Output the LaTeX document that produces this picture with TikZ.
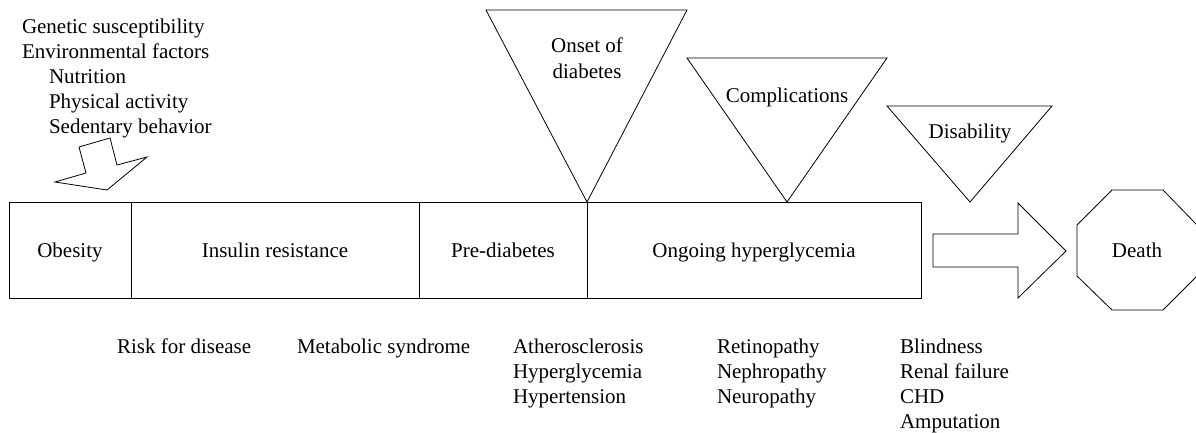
\documentclass[tikz,border=0pt]{standalone}
\usepackage{fontspec}
\setmainfont{Liberation Serif}
\usetikzlibrary{shapes.geometric}
\begin{document}
\begin{tikzpicture}[x=1pt,y=-1pt,line width=0.8pt,
  every node/.style={font=\fontsize{21}{25}\selectfont,inner sep=0pt,outer sep=0pt},
  lbl/.style={anchor=base west},
  ctr/.style={anchor=base},
  stage/.style={draw,minimum height=96pt,anchor=north west}]
\useasboundingbox (0,0) rectangle (1196,432);
% stage boxes
\node[stage,minimum width=122pt] (ob) at (9,202) {};
\node[stage,minimum width=288pt] (ir) at (131,202) {};
\node[stage,minimum width=168pt] (pd) at (419,202) {};
\node[stage,minimum width=334pt] (oh) at (587,202) {};
\node[ctr] (obt) at (70,257) {Obesity};
\node[ctr] (irt) at (275,257) {Insulin resistance};
\node[ctr] (pdt) at (503,257) {Pre-diabetes};
\node[ctr] (oht) at (754,257) {Ongoing hyperglycemia};
% triangles
\draw (486,10) -- (687,10) -- (587,202) -- cycle;
\node[ctr] (on1) at (587,52) {Onset of};
\node[ctr] (on2) at (587,78) {diabetes};
\draw (687,58) -- (887,58) -- (787,202) -- cycle;
\node[ctr] (co) at (787,102) {Complications};
\draw (887,106) -- (1052,106) -- (970,202) -- cycle;
\node[ctr] (di) at (970,138) {Disability};
% big arrow
\draw (933,234) -- (1018,234) -- (1018,203) -- (1066,251) -- (1018,298) -- (1018,267) -- (933,267) -- cycle;
% octagon
\draw (1112,190) -- (1163,190) -- (1197,225) -- (1197,276) -- (1163,310) -- (1112,310) -- (1077,276) -- (1077,225) -- cycle;
\node[ctr] (de) at (1137,257) {Death};
% small arrow
\draw (79,147) -- (110,138) -- (117,165) -- (147,157) -- (107,190) -- (55,182) -- (86,173) -- cycle;
% top-left factors
\node[lbl] (f1) at (22,33) {Genetic susceptibility};
\node[lbl] (f2) at (22,58) {Environmental factors};
\node[lbl] (f3) at (49,83) {Nutrition};
\node[lbl] (f4) at (49,108) {Physical activity};
\node[lbl] (f5) at (49,133) {Sedentary behavior};
% bottom labels
\node[lbl] (b1) at (117,353) {Risk for disease};
\node[lbl] (b2) at (297,353) {Metabolic syndrome};
\node[lbl] (c1) at (513,353) {Atherosclerosis};
\node[lbl] (c2) at (513,378) {Hyperglycemia};
\node[lbl] (c3) at (513,403) {Hypertension};
\node[lbl] (d1) at (717,353) {Retinopathy};
\node[lbl] (d2) at (717,378) {Nephropathy};
\node[lbl] (d3) at (717,403) {Neuropathy};
\node[lbl] (e1) at (900,353) {Blindness};
\node[lbl] (e2) at (900,378) {Renal failure};
\node[lbl] (e3) at (900,403) {CHD};
\node[lbl] (e4) at (900,428) {Amputation};
\end{tikzpicture}
\end{document}
